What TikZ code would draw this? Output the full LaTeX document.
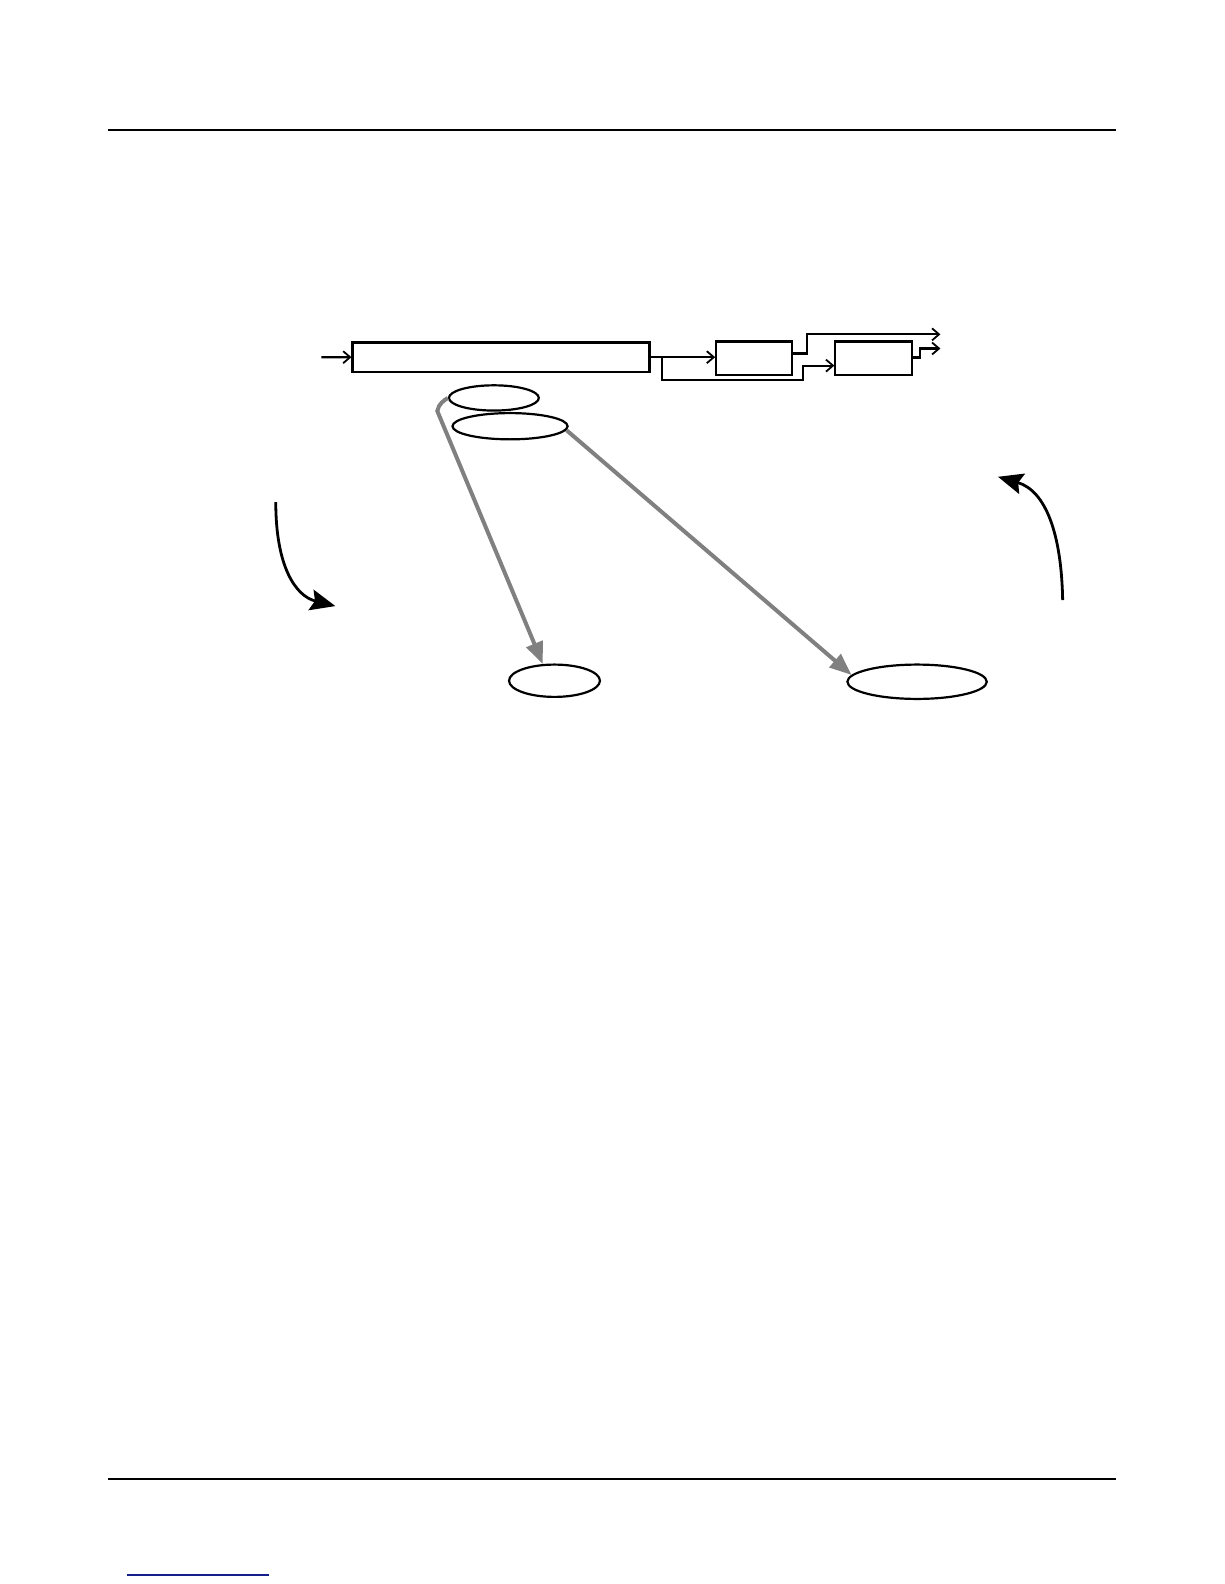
\documentclass[tikz,border=0pt]{standalone}
\usetikzlibrary{arrows.meta,shapes.geometric}
\definecolor{arrowgray}{RGB}{128,128,128}
\definecolor{linkblue}{RGB}{20,30,140}
\tikzset{
  blockbox/.style={draw,line width=2.2pt,inner sep=0pt,anchor=north west},
  oval/.style={draw,ellipse,line width=2.2pt,inner sep=0pt},
  flow/.style={line width=2.2pt,-{Straight Barb[length=7pt,width=12pt,line width=1.8pt]}},
  grayarrow/.style={draw=arrowgray,line width=4pt,-{Triangle[length=22pt,width=17pt,fill=arrowgray]}},
  bentarrow/.style={line width=2.8pt,-{Stealth[length=25pt,width=21pt,inset=4pt]}},
  rule/.style={line width=1.4pt},
}
\begin{document}
\begin{tikzpicture}[x=1pt,y=-1pt]
\useasboundingbox[fill=white] (0,0) rectangle (1224,1584);
% page rules
\coordinate (tl) at (108,130); \coordinate (tr) at (1116,130);
\coordinate (bl) at (108,1479); \coordinate (br) at (1116,1479);
\draw[rule] (tl) -- (tr);
\draw[rule] (bl) -- (br);
\coordinate (ll) at (127,1575); \coordinate (lr) at (269,1575);
\draw[linkblue,line width=1.5pt] (ll) -- (lr);
\begin{scope}[scale=1.01,transform shape]
% blocks
\node[blockbox,minimum width=294pt,minimum height=29pt] (main) at (348,338) {};
\node[blockbox,minimum width=75pt,minimum height=33pt] (ba) at (708,337) {};
\node[blockbox,minimum width=76pt,minimum height=33pt] (bb) at (826,337) {};
% input
\coordinate (in) at ([xshift=-30pt]main.west);
\draw[flow] (in) -- (main.west);
% main -> A
\draw[flow] (main.east) -- (main.east -| ba.west);
% branch main -> B
\coordinate (br1) at (655,352.5);
\draw[flow] (br1) |- (795,376) |- (bb.west |- 0,362);
% A -> top output
\coordinate (outa) at (931,331);
\draw[flow] (ba.east |- 0,350) -- (799,350) |- (outa);
% B -> output
\coordinate (outb) at (931,345);
\draw[flow] (bb.east |- 0,354) -- (911,354) |- (outb);
% ovals
\node[oval,minimum width=89pt,minimum height=25pt] (e1) at (489,394) {};
\node[oval,minimum width=114pt,minimum height=26pt] (e2) at (505,422) {};
\node[oval,minimum width=90pt,minimum height=32pt] (e3) at (549,674) {};
\node[oval,minimum width=138pt,minimum height=34pt] (e4) at (908,675) {};
% gray arrows
\draw[grayarrow] (e1.west) .. controls (440,396) and (434,400) .. (433,407) -- (e3.125);
\draw[grayarrow] (e2.-4) -- (e4.174);
% bent arrows
\coordinate (la) at (273,497); \coordinate (lb) at (332,600);
\draw[bentarrow] (la) .. controls (273,560) and (292,590) .. (lb);
\coordinate (ra) at (1052,594); \coordinate (rb) at (988,472);
\draw[bentarrow] (ra) .. controls (1051,530) and (1036,486) .. (rb);
\end{scope}
\end{tikzpicture}
\end{document}
